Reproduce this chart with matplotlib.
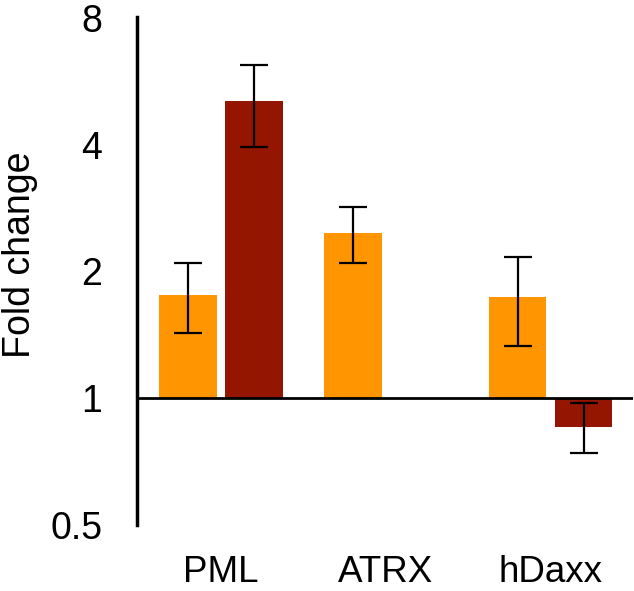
import matplotlib
matplotlib.use("Agg")
import matplotlib.pyplot as plt
import matplotlib.transforms as mtransforms
import numpy as np

plt.rcParams['font.family'] = ['Liberation Sans', 'DejaVu Sans']

categories = ["PML", "ATRX", "hDaxx"]
# series 1 (orange)
s1_values = [1.76, 2.47, 1.74]
s1_low = [1.43, 2.10, 1.33]
s1_high = [2.09, 2.85, 2.16]
# series 2 (dark red); ATRX missing
s2_values = [5.09, np.nan, 0.855]
s2_low = [3.95, np.nan, 0.74]
s2_high = [6.18, np.nan, 0.977]
yticks = [0.5, 1, 2, 4, 8]
ytick_labels = ["0.5", "1", "2", "4", "8"]

c1 = "#FF9500"
c2 = "#941500"

W, H = 634, 591
fig = plt.figure(figsize=(W / 100, H / 100), dpi=100)
ax_top, ax_bot = 17, 525
ax = fig.add_axes([137 / W, 1 - ax_bot / H, (633 - 137) / W, (ax_bot - ax_top) / H])
ax.set_yscale('log', base=2)
ax.set_ylim(0.5, 8 * 2 ** (1 / 127))
ax.set_xlim(-0.51, 2.5)

x = np.arange(len(categories))
off = 0.2
bw = 0.35

def draw(xpos, vals, lows, highs, color):
    for xi, v, lo, hi in zip(xpos, vals, lows, highs):
        if np.isnan(v):
            continue
        ax.bar(xi, v - 1, bottom=1, width=bw, color=color, zorder=2)
        ax.errorbar(xi, v, yerr=[[v - lo], [hi - v]], fmt='none', ecolor='black',
                    elinewidth=1.6, capsize=10, capthick=1.6, zorder=3)

draw(x - off, s1_values, s1_low, s1_high, c1)
draw(x + off, s2_values, s2_low, s2_high, c2)

ax.axhline(1, color='black', lw=2, zorder=4)

for s in ['top', 'right', 'bottom']:
    ax.spines[s].set_visible(False)
ax.spines['left'].set_linewidth(2.5)

ax.set_yticks(yticks)
ax.set_yticklabels(ytick_labels, fontsize=27)
ax.yaxis.set_minor_locator(matplotlib.ticker.NullLocator())
ax.tick_params(axis='y', length=0, pad=25)
ax.set_xticks([])

trans = mtransforms.blended_transform_factory(ax.transData, fig.transFigure)
for xi, c in zip(x, categories):
    ax.text(xi, 1 - 582 / H, c, ha='center', va='baseline', fontsize=26.5,
            transform=trans, clip_on=False)

fig.text(2 / W, 1 - 255 / H, "Fold change", rotation=90, ha='left', va='center',
         fontsize=27)

fig.savefig("out.png", dpi=100)
